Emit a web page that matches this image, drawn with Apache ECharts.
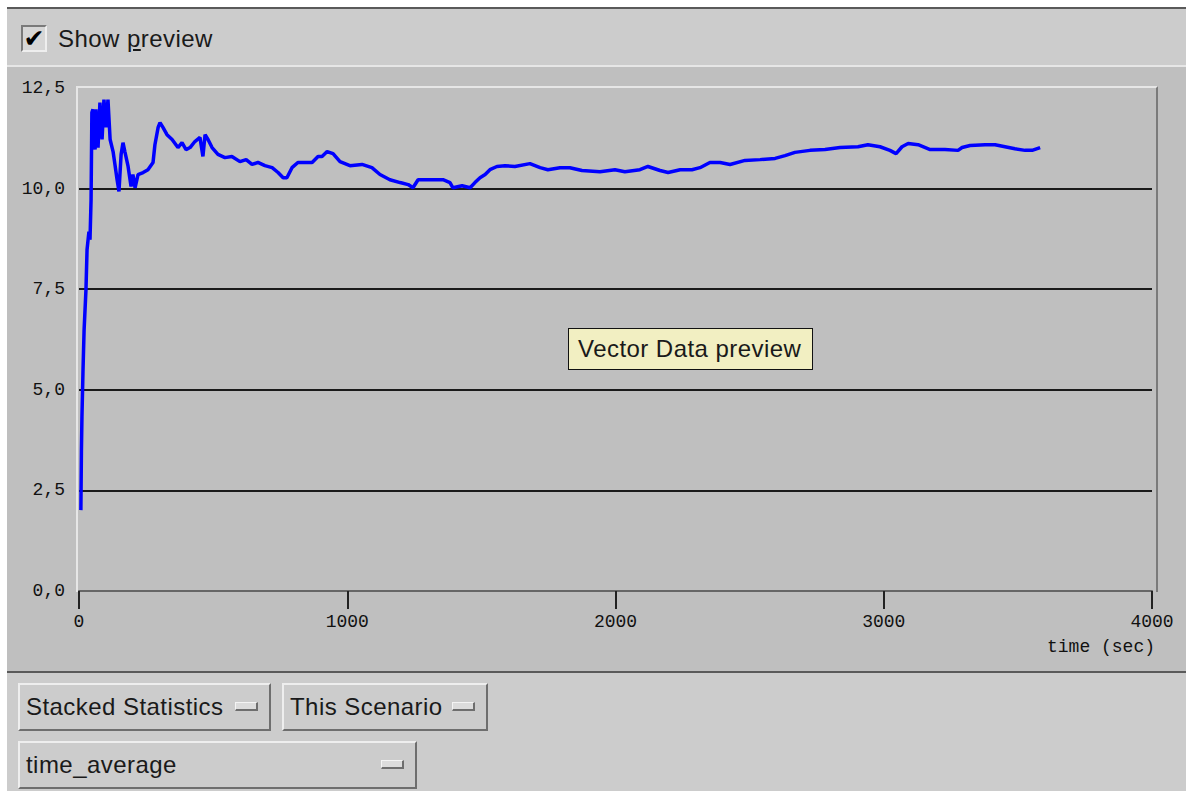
<!DOCTYPE html>
<html>
<head>
<meta charset="utf-8">
<script src="https://cdn.jsdelivr.net/npm/echarts@6/dist/echarts.min.js"></script>
<style>
	body { margin: 0; background: #fff; width: 1186px; height: 791px; overflow: hidden; position: relative; font-family: "Liberation Sans", Arial, sans-serif; }
	.abs { position: absolute; box-sizing: border-box; }
	.txt { letter-spacing: 0.45px; }
	#topPanel { left: 7px; top: 7px; right: 0; height: 60px; background: #cccccc; border-top: 2px solid #5a5a5a; border-bottom: 2px solid #e6e6e6; }
	#chartPanel { left: 7px; top: 67px; right: 0; height: 604px; background: #bfbfbf; }
	#bottomPanel { left: 7px; top: 671px; right: 0; bottom: 0; background: #cccccc; border-top: 2px solid #5a5a5a; }
	#frame { left: 76px; top: 86px; width: 1082px; height: 506px; border-top: 2px solid #e6e6e6; border-left: 2px solid #e6e6e6; border-right: 2px solid #7a7a7a; }
	#check { left: 21px; top: 25px; width: 26px; height: 27px; background: #d6d6d6; border-top: 2px solid #7a7a7a; border-left: 2px solid #7a7a7a; border-bottom: 2px solid #eeeeee; border-right: 2px solid #eeeeee; font-family: "DejaVu Sans"; font-weight: bold; font-size: 25px; line-height: 23px; text-align: center; color: #000; }
	#showLabel { left: 58px; top: 24px; font-size: 24px; line-height: 30px; color: #1a1a1a; }
	#chart { left: 0; top: 0; width: 1186px; height: 791px; }
	#preview { left: 568px; top: 328px; width: 245px; height: 42px; background: #f2efc2; border: 1px solid #111; font-size: 24px; line-height: 40px; padding-left: 9px; color: #1a1a1a; z-index: 5; }
	.btn { height: 48px; background: #cccccc; border-top: 2px solid #eeeeee; border-left: 2px solid #eeeeee; border-bottom: 2px solid #6e6e6e; border-right: 2px solid #6e6e6e; font-size: 24px; line-height: 44px; padding-left: 6px; color: #1a1a1a; }
	.ind { position: absolute; top: 17px; width: 23px; height: 9px; background: #dcdcdc; border-top: 1px solid #f4f4f4; border-left: 1px solid #f4f4f4; border-bottom: 2px solid #6e6e6e; border-right: 2px solid #6e6e6e; box-sizing: border-box; }
</style>
</head>
<body>
<div class="abs" id="topPanel"></div>
<div class="abs" id="chartPanel"></div>
<div class="abs" id="bottomPanel"></div>
<div class="abs" id="frame"></div>
<div class="abs" id="check">✔</div>
<div class="abs txt" id="showLabel">Show <u>p</u>review</div>
<div class="abs" id="chart"></div>
<div class="abs txt" id="preview">Vector Data preview</div>
<div class="abs btn txt" style="left:18px;top:683px;width:253px;">Stacked Statistics<span class="ind" style="left:215px;"></span></div>
<div class="abs btn txt" style="left:282px;top:683px;width:206px;">This Scenario<span class="ind" style="left:168px;"></span></div>
<div class="abs btn txt" style="left:18px;top:741px;width:399px;">time_average<span class="ind" style="left:361px;"></span></div>
<script>
// time (sec) and value of the time_average vector
const times = [
	7, 9, 11, 15, 19, 26, 30, 37, 41, 45,
	48, 52, 60, 63, 71, 78, 86, 93, 101, 108,
	116, 127, 134, 142, 149, 157, 164, 171, 183, 194,
	201, 209, 220, 239, 257, 276, 283, 295, 302, 313,
	328, 347, 369, 384, 399, 414, 432, 451, 462, 470,
	481, 496, 518, 544, 570, 600, 623, 645, 667, 693,
	720, 742, 761, 775, 794, 816, 843, 869, 891, 906,
	925, 947, 973, 1010, 1055, 1092, 1122, 1159, 1197, 1227,
	1245, 1264, 1301, 1357, 1383, 1394, 1428, 1458, 1476, 1495,
	1514, 1532, 1558, 1588, 1625, 1681, 1719, 1748, 1793, 1830,
	1875, 1942, 1998, 2035, 2091, 2121, 2166, 2196, 2241, 2285,
	2315, 2352, 2390, 2427, 2483, 2539, 2595, 2632, 2669, 2725,
	2781, 2837, 2904, 2941, 2986, 3023, 3046, 3068, 3091, 3128,
	3173, 3228, 3277, 3292, 3322, 3378, 3415, 3452, 3489, 3527,
	3553, 3583
];
const values = [
	2.01, 3.46, 4.33, 5.50, 6.49, 7.49, 8.48, 8.93, 8.73, 9.73,
	11.89, 11.97, 10.97, 11.97, 11.02, 12.14, 11.22, 12.21, 11.52, 12.21,
	11.22, 10.92, 10.60, 10.22, 9.93, 10.85, 11.14, 10.92, 10.55, 10.05,
	10.35, 10.02, 10.35, 10.40, 10.47, 10.65, 11.09, 11.52, 11.64, 11.52,
	11.34, 11.22, 11.02, 11.14, 10.97, 11.02, 11.17, 11.27, 10.80, 11.34,
	11.22, 11.02, 10.85, 10.77, 10.80, 10.67, 10.72, 10.60, 10.65, 10.57,
	10.52, 10.40, 10.27, 10.27, 10.52, 10.65, 10.65, 10.65, 10.80, 10.80,
	10.92, 10.87, 10.67, 10.57, 10.60, 10.52, 10.35, 10.22, 10.15, 10.10,
	10.02, 10.22, 10.22, 10.22, 10.15, 10.02, 10.07, 10.02, 10.15, 10.27,
	10.35, 10.47, 10.55, 10.57, 10.55, 10.62, 10.52, 10.47, 10.52, 10.52,
	10.45, 10.42, 10.47, 10.42, 10.47, 10.55, 10.45, 10.40, 10.47, 10.47,
	10.52, 10.65, 10.65, 10.60, 10.70, 10.72, 10.75, 10.82, 10.90, 10.95,
	10.97, 11.02, 11.04, 11.09, 11.04, 10.95, 10.87, 11.04, 11.12, 11.09,
	10.97, 10.97, 10.95, 11.02, 11.07, 11.09, 11.09, 11.04, 10.99, 10.95,
	10.95, 11.02
];
const xTicks = [0, 1000, 2000, 3000, 4000];
const yTicks = [0, 2.5, 5, 7.5, 10, 12.5];
const xName = 'time (sec)';

const chart = echarts.init(document.getElementById('chart'), null, { renderer: 'svg' });
const monoFont = { fontFamily: 'Liberation Mono', fontSize: 18, color: '#111' };

chart.setOption({
	animation: false,
	backgroundColor: 'transparent',
	grid: { left: 79, right: 34, top: 88, bottom: 200 },
	xAxis: {
		type: 'value',
		min: xTicks[0],
		max: xTicks[xTicks.length - 1],
		interval: 1000,
		axisLine: { lineStyle: { color: '#666', width: 2 } },
		axisTick: { length: 18, lineStyle: { color: '#222', width: 2 } },
		axisLabel: Object.assign({ margin: 22, formatter: v => String(v) }, monoFont),
		splitLine: { show: false }
	},
	yAxis: {
		type: 'value',
		min: yTicks[0],
		max: yTicks[yTicks.length - 1],
		interval: 2.5,
		axisLine: { show: false },
		axisTick: { show: false },
		axisLabel: Object.assign({ margin: 14, formatter: v => v.toFixed(1).replace('.', ',') }, monoFont),
		splitLine: { show: true, showMinLine: false, showMaxLine: false, lineStyle: { color: '#1a1a1a', width: 2 } }
	},
	graphic: [{
		type: 'text',
		right: 31,
		top: 638,
		style: { text: xName, font: '18px "Liberation Mono"', fill: '#111' }
	}],
	series: [{
		type: 'line',
		data: times.map((t, i) => [t, values[i]]),
		showSymbol: false,
		lineStyle: { color: '#0000ff', width: 3.5 },
		z: 3
	}]
});
</script>
</body>
</html>
